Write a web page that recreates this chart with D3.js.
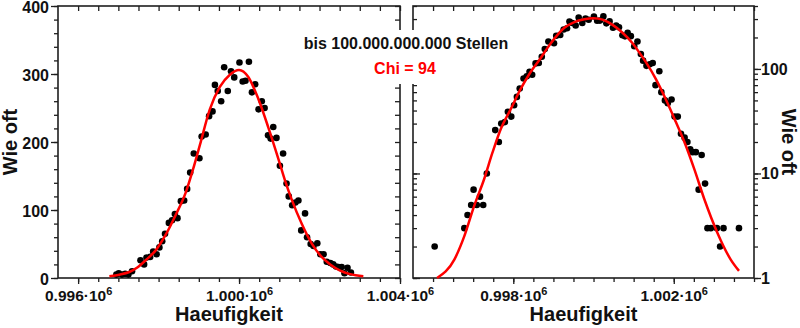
<!DOCTYPE html>
<html>
<head>
<meta charset="utf-8">
<script src="https://cdn.jsdelivr.net/npm/d3@7"></script>
<style>
  body { margin: 0; background: #fff; }
  svg { display: block; font-family: "Liberation Sans", Arial, sans-serif; font-weight: bold; }
</style>
</head>
<body>
<svg id="chart" width="800" height="328"></svg>
<script>
// histogram bins: Haeufigkeit -> wie oft
const binX = [
  996040, 996780, 996860, 996950, 997010, 997090, 997170, 997250, 997340, 997550,
  997640, 997700, 997790, 997865, 997950, 998020, 998090, 998160, 998255, 998335,
  998405, 998470, 998555, 998635, 998710, 998785, 998875, 999015, 999070, 999170,
  999255, 999340, 999400, 999470, 999555, 999630, 999720, 999800, 999880, 1000010,
  1000090, 1000160, 1000245, 1000320, 1000400, 1000485, 1000565, 1000635, 1000720, 1000785,
  1000850, 1000930, 1001015, 1001095, 1001180, 1001235, 1001320, 1001400, 1001475, 1001545,
  1001640, 1001690, 1001780, 1001850, 1001945, 1002020, 1002100, 1002180, 1002270, 1002340,
  1002410, 1002470, 1002550, 1002620, 1002695, 1002780, 1002840, 1002925, 1003075, 1003155,
  1003240, 1003625
];
const binCount = [
  2, 3, 4, 5, 7, 5, 6, 5, 10, 26,
  20, 30, 31, 39, 35, 45, 54, 65, 81, 85,
  94, 88, 113, 114, 131, 155, 183, 176, 208, 211,
  238, 245, 284, 275, 260, 310, 275, 304, 295, 317,
  289, 290, 318, 273, 285, 248, 260, 250, 210, 205,
  222, 206, 165, 183, 139, 120, 107, 111, 114, 70,
  95, 60, 50, 47, 51, 35, 35, 24, 22, 20,
  17, 16, 16, 7, 15, 8, 3, 3, 3, 2,
  3, 3
];

// fitted curve
const fitX = [
  996100, 996530, 996777, 997025, 997272, 997480, 997686, 997933, 998181, 998428,
  998676, 998857, 999024, 999273, 999522, 999771, 1000000, 1000226, 1000475, 1000724,
  1000973, 1001139, 1001305, 1001555, 1001804, 1002053, 1002265, 1002512, 1002760, 1003089,
  1003420, 1003626
];
const fitY = [
  1.0, 1.5, 2.5, 4.9, 8.8, 15.8, 26.5, 41, 64, 93,
  126, 160, 195, 248, 281, 299, 306, 296, 264, 222,
  176, 144, 116, 80, 51, 31, 20, 11, 5.7, 2.7,
  1.5, 1.17
];

const xTicksLeft = [996000, 1000000, 1004000];
const xTicksRight = [998000, 1002000];
const yTicksLin = [0, 100, 200, 300, 400];
const yTicksLog = [1, 10, 100];
const xTitle = "Haeufigkeit";
const yTitle = "Wie oft";
const note = "bis 100.000.000.000 Stellen";
const chiNote = "Chi = 94";

const svg = d3.select("#chart");
const plotTop = 6, plotBottom = 278;
const xDomain = [995500, 1004000];
const minorX = d3.range(996000, 1004001, 500);

const xL = d3.scaleLinear().domain(xDomain).range([58, 400]);
const xR = d3.scaleLinear().domain(xDomain).range([413, 754]);
const yL = d3.scaleLinear().domain([0, 400]).range([plotBottom, plotTop]);
const yR = d3.scaleLog().domain([1, 400]).range([plotBottom, plotTop]);

const ink = "#1e1e1e";

function styleAxis(g, size) {
  g.select(".domain").remove();
  g.attr("font-family", null).attr("font-size", size || 16);
  g.selectAll(".tick line").attr("stroke", ink).attr("stroke-width", 1.3);
  g.selectAll(".tick text").attr("fill", "#111");
  return g;
}

function sciLabels(g) {
  g.selectAll(".tick text").each(function(d) {
    const t = d3.select(this).text(null);
    t.append("tspan").text(d3.format(".3f")(d / 1e6) + "\u00b710");
    t.append("tspan").attr("dy", -6).attr("font-size", 11).text("6");
  });
}

function xAxes(x, majors) {
  svg.append("g").attr("transform", `translate(0,${plotBottom})`)
    .call(d3.axisBottom(x).tickValues(minorX).tickSize(4).tickSizeOuter(0).tickFormat(""))
    .call(g => styleAxis(g));
  svg.append("g").attr("transform", `translate(0,${plotBottom})`)
    .call(d3.axisBottom(x).tickValues(majors).tickSize(6).tickSizeOuter(0).tickPadding(6))
    .call(g => styleAxis(g, 15.5))
    .call(sciLabels);
  svg.append("g").attr("transform", `translate(0,${plotTop})`)
    .call(d3.axisBottom(x).tickValues(minorX).tickSize(5).tickSizeOuter(0).tickFormat(""))
    .call(g => styleAxis(g));
}

// ---- left panel, linear
xAxes(xL, xTicksLeft);
const linMinor = d3.range(0, 401, 20);
svg.append("g").attr("transform", `translate(${xL.range()[0]},0)`)
  .call(d3.axisLeft(yL).tickValues(linMinor).tickSize(4).tickSizeOuter(0).tickFormat(""))
  .call(g => styleAxis(g));
svg.append("g").attr("transform", `translate(${xL.range()[0]},0)`)
  .call(d3.axisLeft(yL).tickValues(yTicksLin).tickSize(7).tickSizeOuter(0).tickPadding(2))
  .call(g => styleAxis(g, 16))
  .call(g => g.selectAll(".tick text").attr("dy", "0.4em"));
svg.append("g").attr("transform", `translate(${xL.range()[1]},0)`)
  .call(d3.axisLeft(yL).tickValues(linMinor).tickSize(5).tickSizeOuter(0).tickFormat(""))
  .call(g => styleAxis(g));

// ---- right panel, log
xAxes(xR, xTicksRight);
const logTicks = yR.ticks();
svg.append("g").attr("transform", `translate(${xR.range()[0]},0)`)
  .call(d3.axisRight(yR).tickValues(logTicks).tickSize(4).tickSizeOuter(0).tickFormat(""))
  .call(g => styleAxis(g));
svg.append("g").attr("transform", `translate(${xR.range()[0]},0)`)
  .call(d3.axisRight(yR).tickValues(yTicksLog).tickSize(7).tickSizeOuter(0).tickFormat(""))
  .call(g => styleAxis(g));
svg.append("g").attr("transform", `translate(${xR.range()[1]},0)`)
  .call(d3.axisRight(yR).tickValues(logTicks).tickSize(4).tickSizeOuter(0).tickFormat(""))
  .call(g => styleAxis(g));
svg.append("g").attr("transform", `translate(${xR.range()[1]},0)`)
  .call(d3.axisRight(yR).tickValues(yTicksLog).tickSize(7).tickSizeOuter(0).tickPadding(0).tickFormat(d3.format("d")))
  .call(g => styleAxis(g, 16));

// frames
[xL, xR].forEach(x => {
  svg.append("rect")
    .attr("x", x.range()[0]).attr("y", plotTop)
    .attr("width", x.range()[1] - x.range()[0]).attr("height", plotBottom - plotTop)
    .attr("fill", "none").attr("stroke", ink).attr("stroke-width", 1.6);
});

const bins = binX.map((x, i) => ({ x, n: binCount[i] }));
const fit = fitX.map((x, i) => ({ x, n: fitY[i] }));

// left only shows the central part
const leftBins = bins.filter(d => d.n >= 5);
const leftFit = fit.filter(d => d.x > 996700 && d.x < 1003100);

svg.append("g").selectAll("circle").data(leftBins).join("circle")
  .attr("cx", d => xL(d.x)).attr("cy", d => yL(d.n)).attr("r", 3.3).attr("fill", "#000");
svg.append("path").datum(leftFit)
  .attr("fill", "none").attr("stroke", "#f00").attr("stroke-width", 2.5)
  .attr("d", d3.line().curve(d3.curveMonotoneX).x(d => xL(d.x)).y(d => yL(d.n)));

svg.append("g").selectAll("circle").data(bins).join("circle")
  .attr("cx", d => xR(d.x)).attr("cy", d => yR(d.n)).attr("r", 3.3).attr("fill", "#000");
svg.append("path").datum(fit)
  .attr("fill", "none").attr("stroke", "#f00").attr("stroke-width", 2.5)
  .attr("d", d3.line().curve(d3.curveMonotoneX).x(d => xR(d.x)).y(d => yR(d.n)));

// axis titles
svg.append("text").attr("x", d3.mean(xL.range())).attr("y", 321)
  .attr("text-anchor", "middle").attr("font-size", 20).attr("fill", "#111").text(xTitle);
svg.append("text").attr("x", d3.mean(xR.range())).attr("y", 321)
  .attr("text-anchor", "middle").attr("font-size", 20).attr("fill", "#111").text(xTitle);
svg.append("text").attr("transform", `translate(17,${(plotTop + plotBottom) / 2}) rotate(-90)`)
  .attr("text-anchor", "middle").attr("font-size", 20).attr("fill", "#111").text(yTitle);
svg.append("text").attr("transform", `translate(782,${(plotTop + plotBottom) / 2}) rotate(90)`)
  .attr("text-anchor", "middle").attr("font-size", 20).attr("fill", "#111").text(yTitle);

// annotation box between the panels
svg.append("rect").attr("x", 300).attr("y", 30).attr("width", 213).attr("height", 54).attr("fill", "#fff");
svg.append("text").attr("x", 406).attr("y", 49)
  .attr("text-anchor", "middle").attr("font-size", 16).attr("fill", "#111").text(note);
svg.append("text").attr("x", 405).attr("y", 74)
  .attr("text-anchor", "middle").attr("font-size", 16).attr("fill", "#f00").text(chiNote);
</script>
</body>
</html>
